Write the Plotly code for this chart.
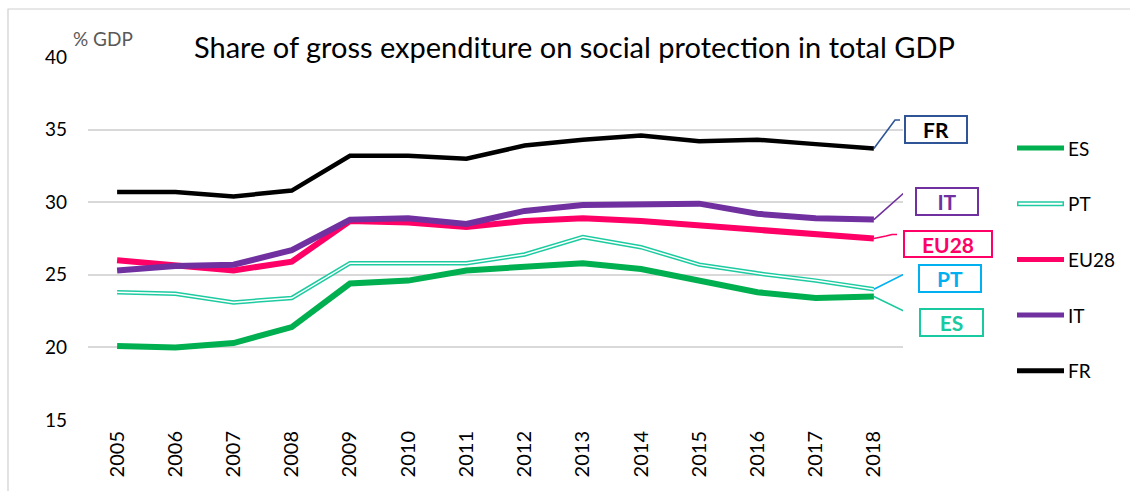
import plotly.graph_objects as go

# Years on the category axis
years = [str(y) for y in range(2005, 2019)]

# Gross expenditure on social protection, % of GDP
es = [20.1, 20.0, 20.3, 21.4, 24.4, 24.6, 25.3, 25.5, 25.8, 25.4, 24.6, 23.8, 23.4, 23.5]
pt = [23.8, 23.7, 23.1, 23.4, 25.8, 25.8, 25.8, 26.4, 27.6, 26.9, 25.7, 25.1, 24.6, 24.0]
eu28 = [26.0, 25.6, 25.3, 25.9, 28.7, 28.6, 28.3, 28.7, 28.9, 28.7, 28.4, 28.0, 27.8, 27.5]
it = [25.3, 25.6, 25.7, 26.7, 28.8, 28.9, 28.5, 29.4, 29.8, 29.9, 29.9, 29.2, 28.9, 28.8]
fr = [30.7, 30.7, 30.4, 30.8, 33.2, 33.2, 33.0, 33.9, 34.3, 34.6, 34.2, 34.3, 34.0, 33.7]

y_ticks = [15, 20, 25, 30, 35, 40]

FONT = "Lato"
GREEN = "#00B050"
TEAL = "#1ECBA1"
PINK = "#FF0066"
PURPLE = "#7030A0"
BLACK = "#000000"

# Figure geometry (pixels)
W, H = 1130, 491
L, R, T, B = 88, 227, 57, 71
PW, PH = W - L - R, H - T - B


def px_x(px):
    return (px - L) / PW


def px_y(py):
    return (H - B - py) / PH


fig = go.Figure()

fig.add_trace(go.Scatter(x=years, y=es, mode="lines", name="ES",
                         line=dict(color=GREEN, width=6)))
# Portugal drawn as a double line: teal stroke with a white core
fig.add_trace(go.Scatter(x=years, y=pt, mode="lines", name="PT",
                         line=dict(color=TEAL, width=4.5)))
fig.add_trace(go.Scatter(x=years, y=pt, mode="lines", name="PT core",
                         line=dict(color="white", width=1.5)))
fig.add_trace(go.Scatter(x=years, y=eu28, mode="lines", name="EU28",
                         line=dict(color=PINK, width=6)))
fig.add_trace(go.Scatter(x=years, y=it, mode="lines", name="IT",
                         line=dict(color=PURPLE, width=6)))
fig.add_trace(go.Scatter(x=years, y=fr, mode="lines", name="FR",
                         line=dict(color=BLACK, width=4.5)))

shapes = []
annotations = []

# Outer chart frame
shapes.append(dict(type="rect", xref="paper", yref="paper",
                   x0=px_x(8), x1=px_x(W + 20), y0=px_y(H + 20), y1=px_y(9),
                   line=dict(color="#D0D0D0", width=1.2), fillcolor="rgba(0,0,0,0)",
                   layer="below"))

# Custom legend on the right
legend_items = [("ES", GREEN), ("PT", TEAL), ("EU28", PINK), ("IT", PURPLE), ("FR", BLACK)]
for i, (name, color) in enumerate(legend_items):
    ly = 148 + i * 55.7
    shapes.append(dict(type="line", xref="paper", yref="paper",
                       x0=px_x(1017), x1=px_x(1064), y0=px_y(ly), y1=px_y(ly),
                       line=dict(color=color, width=5)))
    if name == "PT":
        shapes.append(dict(type="line", xref="paper", yref="paper",
                           x0=px_x(1018.5), x1=px_x(1062.5), y0=px_y(ly), y1=px_y(ly),
                           line=dict(color="white", width=2)))
    annotations.append(dict(xref="paper", yref="paper", x=px_x(1066), y=px_y(ly),
                            xanchor="left", yanchor="middle", showarrow=False,
                            text=name, font=dict(family=FONT, size=19, color="#000")))

# End-of-line callout labels: (text, series, line color, text color, box centre, box size, elbow)
callouts = [
    ("FR", fr, "#2F5597", "#000000", (936, 129.5), (64, 29), [(895, 120), (900, 120)]),
    ("IT", it, PURPLE, PURPLE, (947, 201.5), (64, 29), [(905, 192), (910, 192)]),
    ("EU28", eu28, PINK, PINK, (948, 244), (90, 28), [(886, 236), (892, 234.5), (897, 234.5)]),
    ("PT", pt, "#00B0F0", "#00B0F0", (950, 278.5), (64, 29), [(912, 270), (915, 270)]),
    ("ES", es, "#19C9A0", "#19C9A0", (951.5, 322.5), (65, 29), [(910, 314), (915, 314)]),
]


def to_cat(px):
    return (px - L) / (PW / len(years)) - 0.5


def to_val(py):
    return y_ticks[0] + (H - B - py) / PH * (y_ticks[-1] - y_ticks[0])


for text, series, lcol, tcol, (cx, cy), (bw, bh), elbow in callouts:
    start = (len(years) - 1, series[-1])
    pts = [start] + [(to_cat(ex), to_val(ey)) for ex, ey in elbow]
    path = "M " + " L ".join(f"{x:.4f},{y:.4f}" for x, y in pts)
    shapes.append(dict(type="path", xref="x", yref="y", path=path,
                       line=dict(color=lcol, width=1.6)))
    annotations.append(dict(xref="paper", yref="paper", x=px_x(cx), y=px_y(cy),
                            xanchor="center", yanchor="middle", showarrow=False,
                            text=f"<b>{text}</b>", width=bw - 6, height=bh - 6,
                            borderpad=1, borderwidth=2, bordercolor=lcol,
                            bgcolor="white",
                            font=dict(family=FONT, size=21, color=tcol)))

# Title and unit label
annotations.append(dict(xref="paper", yref="paper", x=px_x(574), y=px_y(47),
                        xanchor="center", yanchor="middle", showarrow=False,
                        text="Share of gross expenditure on social protection in total GDP",
                        font=dict(family=FONT, size=29, color="#000")))
annotations.append(dict(xref="paper", yref="paper", x=px_x(71), y=px_y(39),
                        xanchor="left", yanchor="middle", showarrow=False,
                        text="% GDP", font=dict(family=FONT, size=19, color="#595959")))

fig.update_layout(
    width=W, height=H,
    margin=dict(l=L, r=R, t=T, b=B),
    paper_bgcolor="white", plot_bgcolor="white",
    showlegend=False,
    shapes=shapes,
    annotations=annotations,
    xaxis=dict(type="category", range=[-0.5, len(years) - 0.5],
               showgrid=False, zeroline=False, showline=False,
               tickangle=-90, ticks="", ticklabelstandoff=6,
               tickfont=dict(family=FONT, size=20, color="#000")),
    yaxis=dict(range=[y_ticks[0], y_ticks[-1]], tickvals=y_ticks,
               showgrid=True, gridcolor="#D9D9D9", gridwidth=1.5,
               zeroline=False, showline=False, ticks="",
               ticklabelstandoff=20,
               tickfont=dict(family=FONT, size=19, color="#000")),
)

fig.write_html("out.html", config={"displayModeBar": False})
